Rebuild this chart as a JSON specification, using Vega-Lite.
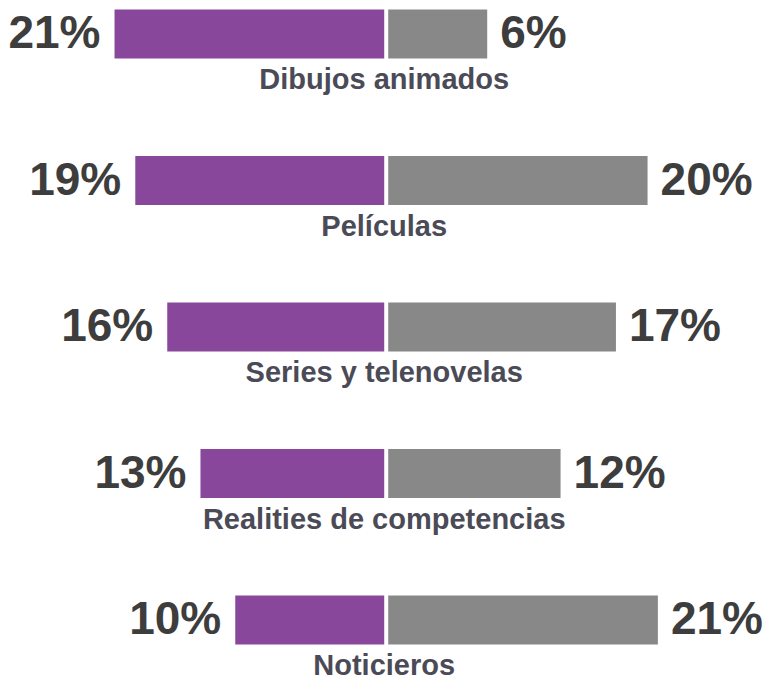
{
  "$schema": "https://vega.github.io/schema/vega-lite/v6.json",
  "width": 763,
  "height": 680,
  "padding": 0,
  "autosize": {"type": "none"},
  "background": "white",
  "config": {"view": {"stroke": null}, "font": "Liberation Sans"},
  "data": {
    "values": [
      {"categoria": "Dibujos animados", "grupo": "A", "valor": 21},
      {"categoria": "Dibujos animados", "grupo": "B", "valor": 6},
      {"categoria": "Películas", "grupo": "A", "valor": 19},
      {"categoria": "Películas", "grupo": "B", "valor": 20},
      {"categoria": "Series y telenovelas", "grupo": "A", "valor": 16},
      {"categoria": "Series y telenovelas", "grupo": "B", "valor": 17},
      {"categoria": "Realities de competencias", "grupo": "A", "valor": 13},
      {"categoria": "Realities de competencias", "grupo": "B", "valor": 12},
      {"categoria": "Noticieros", "grupo": "A", "valor": 10},
      {"categoria": "Noticieros", "grupo": "B", "valor": 21}
    ]
  },
  "transform": [
    {"calculate": "datum.grupo === 'A' ? -datum.valor : datum.valor", "as": "pos"},
    {"calculate": "datum.valor + '%'", "as": "etiqueta"}
  ],
  "encoding": {
    "y": {
      "field": "categoria",
      "type": "nominal",
      "sort": ["Dibujos animados", "Películas", "Series y telenovelas", "Realities de competencias", "Noticieros"],
      "scale": {"range": [-39.25, 693.25], "paddingInner": 0.665, "paddingOuter": 0.3325},
      "axis": null
    },
    "x": {
      "field": "pos",
      "type": "quantitative",
      "scale": {"type": "pow", "exponent": 0.8, "domain": [-32.9, 31.9], "nice": false, "zero": false},
      "axis": null
    }
  },
  "layer": [
    {
      "transform": [{"filter": "datum.grupo === 'A'"}],
      "mark": {"type": "bar", "color": "#88479a", "xOffset": -2, "x2Offset": -2},
      "encoding": {"x2": {"datum": 0}}
    },
    {
      "transform": [{"filter": "datum.grupo === 'B'"}],
      "mark": {"type": "bar", "color": "#878887", "xOffset": 2, "x2Offset": 2},
      "encoding": {"x2": {"datum": 0}}
    },
    {
      "transform": [{"filter": "datum.grupo === 'A'"}],
      "mark": {"type": "text", "align": "right", "baseline": "middle", "dx": -16, "fontSize": 46, "fontWeight": "bold", "color": "#3d3d3d"},
      "encoding": {"text": {"field": "etiqueta"}}
    },
    {
      "transform": [{"filter": "datum.grupo === 'B'"}],
      "mark": {"type": "text", "align": "left", "baseline": "middle", "dx": 15, "fontSize": 46, "fontWeight": "bold", "color": "#3d3d3d"},
      "encoding": {"text": {"field": "etiqueta"}}
    },
    {
      "transform": [{"filter": "datum.grupo === 'A'"}],
      "mark": {"type": "text", "align": "center", "baseline": "middle", "dy": 46, "dx": -2, "fontSize": 29, "fontWeight": "bold", "color": "#4b4b57"},
      "encoding": {"x": {"datum": 0, "type": "quantitative"}, "text": {"field": "categoria"}}
    }
  ]
}
